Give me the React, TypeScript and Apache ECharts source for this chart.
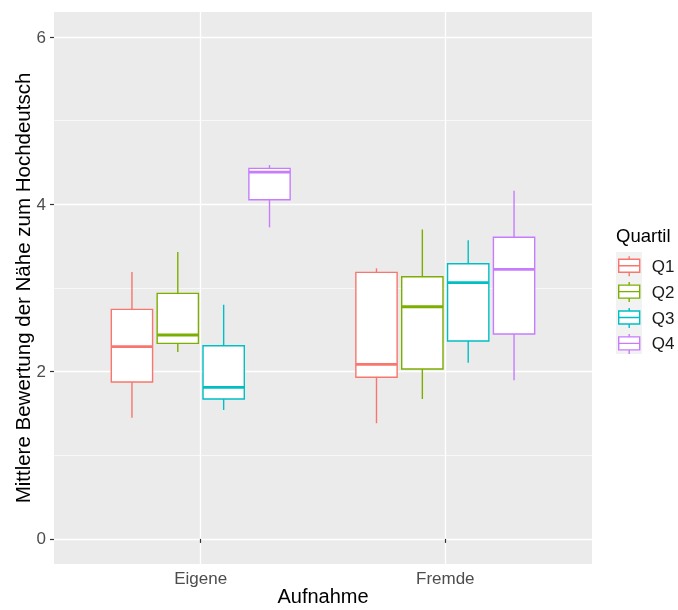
import React, { useEffect, useRef } from "react";
import * as echarts from "echarts";

// ---- data ----
const categories = ["Eigene", "Fremde"];
const quartils = ["Q1", "Q2", "Q3", "Q4"];
const colors = ["#F8766D", "#7CAE00", "#00BFC4", "#C77CFF"];
// each row: [lower whisker, Q1, median, Q3, upper whisker] for Eigene, Fremde
const q1Stats = [
  [1.45, 1.876, 2.3, 2.745, 3.19],
  [1.383, 1.932, 2.088, 3.187, 3.235],
];
const q2Stats = [
  [2.235, 2.338, 2.438, 2.936, 3.43],
  [1.673, 2.032, 2.776, 3.135, 3.7],
];
const q3Stats = [
  [1.542, 1.673, 1.813, 2.31, 2.8],
  [2.107, 2.366, 3.064, 3.29, 3.57],
];
const q4Stats = [
  [3.725, 4.055, 4.386, 4.43, 4.47],
  [1.897, 2.45, 3.223, 3.606, 4.163],
];
const allStats = [q1Stats, q2Stats, q3Stats, q4Stats];
const yMajorTicks = [0, 2, 4, 6];
const yMinorTicks = [1, 3, 5];
const xTicks = [1, 2];

const FONT = "'Liberation Sans', Arial, Helvetica, sans-serif";
const ICON =
  "path://M0 3 L21 3 L21 16 L0 16 Z M0 9.5 L21 9.5 M10.5 3 L10.5 0 M10.5 16 L10.5 20";

export default function App() {
  const ref = useRef<HTMLDivElement>(null);
  useEffect(() => {
    if (!ref.current) return;
    const chart = echarts.init(ref.current, null, { renderer: "svg" });

    const series = allStats.map((stats, sIdx) => ({
      type: "custom",
      name: quartils[sIdx],
      xAxisIndex: 0,
      yAxisIndex: 0,
      itemStyle: { color: "#fff", borderColor: colors[sIdx], borderWidth: 1.4 },
      encode: { x: 0, y: [1, 2, 3, 4, 5] },
      data: stats.map((s, i) => [i + 1, ...s]),
      renderItem: (params: any, api: any) => {
        const xv = api.value(0);
        const unit = api.size([1, 0])[0];
        const dodge = (0.75 / 4) * unit;
        const cx = api.coord([xv, 0])[0] + (sIdx - 1.5) * dodge;
        const hw = (dodge * 0.9) / 2;
        const yLow = api.coord([xv, api.value(1)])[1];
        const yQ1 = api.coord([xv, api.value(2)])[1];
        const yMed = api.coord([xv, api.value(3)])[1];
        const yQ3 = api.coord([xv, api.value(4)])[1];
        const yHigh = api.coord([xv, api.value(5)])[1];
        const col = colors[sIdx];
        const lw = 1.4;
        return {
          type: "group",
          children: [
            { type: "line", shape: { x1: cx, y1: yQ3, x2: cx, y2: yHigh }, style: { stroke: col, lineWidth: lw } },
            { type: "line", shape: { x1: cx, y1: yQ1, x2: cx, y2: yLow }, style: { stroke: col, lineWidth: lw } },
            {
              type: "rect",
              shape: { x: cx - hw, y: yQ3, width: 2 * hw, height: yQ1 - yQ3 },
              style: { fill: "#fff", stroke: col, lineWidth: lw },
            },
            {
              type: "line",
              shape: { x1: cx - hw, y1: yMed, x2: cx + hw, y2: yMed },
              style: { stroke: col, lineWidth: 2.8 },
            },
          ],
        };
      },
    }));

    chart.setOption({
      animation: false,
      textStyle: { fontFamily: FONT },
      grid: {
        left: 54,
        top: 12,
        width: 538,
        height: 552,
        show: true,
        backgroundColor: "#EBEBEB",
        borderWidth: 0,
        containLabel: false,
        outerBoundsMode: "none",
      },
      title: {
        text: "Quartil",
        left: 616,
        top: 226,
        padding: 0,
        textStyle: { fontSize: 18.5, fontWeight: "normal", color: "#000", fontFamily: FONT },
      },
      legend: {
        orient: "vertical",
        left: 618,
        top: 255.5,
        padding: 0,
        itemWidth: 21,
        itemHeight: 20,
        itemGap: 4.5,
        textStyle: { fontSize: 17, color: "#1a1a1a", fontFamily: FONT, padding: [0, 0, 0, 7] },
        data: quartils.map((q, i) => ({
          name: q,
          icon: ICON,
          itemStyle: { color: "#fff", borderColor: colors[i], borderWidth: 1.4 },
        })),
      },
      graphic: [
        {
          type: "rect",
          left: 616,
          top: 252,
          z: -1,
          shape: { width: 26, height: 102 },
          style: { fill: "#F2F2F2" },
          silent: true,
        },
      ],
      xAxis: {
        type: "value",
        min: 0.4,
        max: 2.6,
        name: "Aufnahme",
        nameLocation: "middle",
        nameGap: 22,
        nameMoveOverlap: false,
        nameTextStyle: { fontSize: 20, color: "#000", fontFamily: FONT },
        axisLine: { show: false },
        axisTick: { show: true, customValues: xTicks, length: 4, lineStyle: { color: "#333333", width: 1.2 } },
        axisLabel: {
          customValues: xTicks,
          formatter: (v: number) => categories[Math.round(v) - 1] ?? "",
          color: "#4D4D4D",
          fontSize: 17,
          margin: 6,
          fontFamily: FONT,
        },
        splitLine: { show: true, lineStyle: { color: "#FFFFFF", width: 1.3 } },
      },
      yAxis: [
        {
          type: "value",
          min: -0.3,
          max: 6.3,
          name: "Mittlere Bewertung der Nähe zum Hochdeutsch",
          nameLocation: "middle",
          nameGap: 21,
          nameMoveOverlap: false,
          nameTextStyle: { fontSize: 20.5, color: "#000", fontFamily: FONT },
          axisLine: { show: false },
          axisTick: { show: true, customValues: yMajorTicks, length: 4, lineStyle: { color: "#333333", width: 1.2 } },
          axisLabel: { customValues: yMajorTicks, color: "#4D4D4D", fontSize: 17, margin: 8, fontFamily: FONT },
          splitLine: { show: true, lineStyle: { color: "#FFFFFF", width: 1.3 } },
        },
        {
          type: "value",
          min: -0.3,
          max: 6.3,
          position: "left",
          axisLine: { show: false },
          axisTick: { show: false, customValues: yMinorTicks },
          axisLabel: { show: false, customValues: yMinorTicks },
          splitLine: { show: true, lineStyle: { color: "#FFFFFF", width: 0.65 } },
        },
      ],
      series,
    });
    return () => chart.dispose();
  }, []);
  return <div ref={ref} style={{ position: "fixed", left: 0, top: 0, width: 678, height: 610 }} />;
}
